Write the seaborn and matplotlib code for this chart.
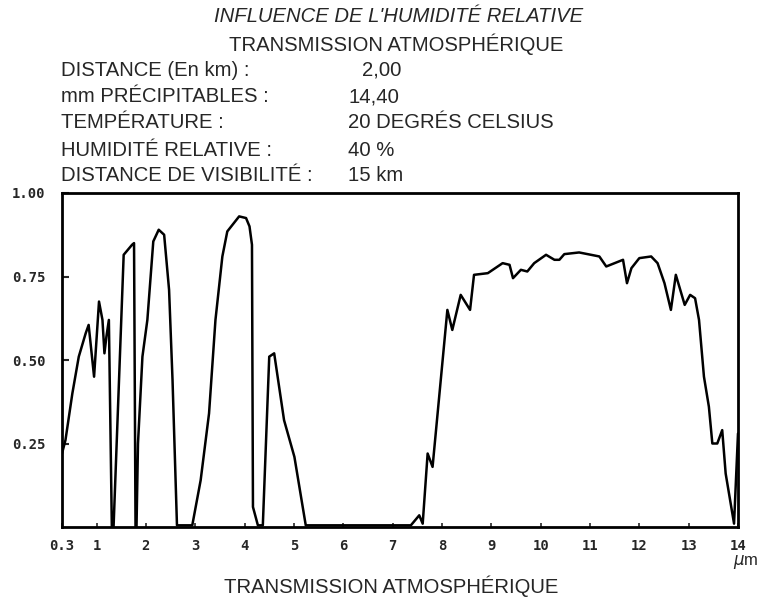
import pandas as pd
import matplotlib
matplotlib.use("Agg")
import matplotlib.pyplot as plt
import seaborn as sns

# transmission curve (wavelength in um, transmission 0..1)
wavelength = [0.30, 0.37, 0.51, 0.64, 0.78, 0.84, 0.95, 1.05, 1.12, 1.16, 1.20, 1.25,
              1.31, 1.345, 1.55, 1.72, 1.76, 1.79, 1.81, 1.84, 1.93, 2.03, 2.15, 2.26,
              2.37, 2.47, 2.54, 2.63, 2.94, 3.11, 3.28, 3.41, 3.55, 3.65, 3.89, 4.03,
              4.10, 4.15, 4.17, 4.27, 4.37, 4.50, 4.60, 4.80, 5.01, 5.24, 7.37, 7.54,
              7.61, 7.71, 7.81, 8.11, 8.21, 8.38, 8.57, 8.65, 8.93, 9.23, 9.37, 9.44,
              9.60, 9.73, 9.87, 10.11, 10.28, 10.38, 10.48, 10.78, 11.02, 11.19, 11.33,
              11.50, 11.67, 11.75, 11.84, 12.00, 12.24, 12.37, 12.51, 12.64, 12.74,
              12.92, 13.03, 13.13, 13.21, 13.31, 13.41, 13.48, 13.58, 13.68, 13.75,
              13.92, 14.00]
transmission = [0.22, 0.26, 0.40, 0.51, 0.58, 0.605, 0.45, 0.675, 0.62, 0.52, 0.57, 0.62,
                0.0, 0.0, 0.815, 0.845, 0.85, 0.0, 0.0, 0.25, 0.51, 0.62, 0.855, 0.89,
                0.875, 0.71, 0.44, 0.005, 0.005, 0.14, 0.34, 0.62, 0.81, 0.885, 0.93, 0.925,
                0.90, 0.845, 0.06, 0.005, 0.005, 0.51, 0.52, 0.32, 0.21, 0.005, 0.005, 0.035,
                0.01, 0.22, 0.18, 0.65, 0.59, 0.695, 0.65, 0.755, 0.76, 0.79, 0.785, 0.745,
                0.77, 0.765, 0.79, 0.815, 0.80, 0.80, 0.817, 0.822, 0.815, 0.81, 0.78,
                0.79, 0.80, 0.73, 0.775, 0.805, 0.81, 0.79, 0.73, 0.65, 0.755,
                0.665, 0.695, 0.685, 0.62, 0.45, 0.36, 0.25, 0.25, 0.29, 0.16,
                0.01, 0.28]

xticks = [0.3, 1, 2, 3, 4, 5, 6, 7, 8, 9, 10, 11, 12, 13, 14]
xlabels = ["0.3", "1", "2", "3", "4", "5", "6", "7", "8", "9", "10", "11", "12", "13", "14"]
yticks = [0.25, 0.50, 0.75, 1.00]
ylabels = ["0.25", "0.50", "0.75", "1.00"]

param_names = ["DISTANCE (En km) :", "mm PRÉCIPITABLES :", "TEMPÉRATURE :",
               "HUMIDITÉ RELATIVE :", "DISTANCE DE VISIBILITÉ :"]
param_values = ["2,00", "14,40", "20 DEGRÉS CELSIUS", "40 %", "15 km"]

df = pd.DataFrame({"wavelength": wavelength, "transmission": transmission})

sns.set_style("white")
sans = ["Liberation Sans", "DejaVu Sans"]
mono = ["DejaVu Sans Mono"]
fs = 14.6

fig = plt.figure(figsize=(7.63, 6.04), dpi=100)
ax = fig.add_axes([62 / 763, 1 - 527 / 604, 676 / 763, 334 / 604])

sns.lineplot(data=df, x="wavelength", y="transmission", ax=ax,
             color="black", linewidth=1.8, sort=False)

ax.set_xlim(0.3, 14)
ax.set_ylim(0, 1)
ax.set_xlabel("")
ax.set_ylabel("")
for s in ax.spines.values():
    s.set_linewidth(2)
    s.set_color("black")

ax.set_xticks(xticks)
ax.set_xticklabels(xlabels, family=mono, weight="bold", fontsize=10)
ax.set_yticks(yticks)
ax.set_yticklabels(ylabels, family=mono, weight="bold", fontsize=10)
ax.tick_params(axis="x", direction="in", length=3, width=1.2, pad=9, bottom=True)
ax.tick_params(axis="y", direction="in", length=5, width=1.5, pad=12, left=True)

# header text
fig.text(399 / 763, 1 - 16 / 604, "INFLUENCE DE L'HUMIDITÉ RELATIVE", family=sans,
         style="italic", fontsize=fs, ha="center", va="center")
fig.text(396 / 763, 1 - 44 / 604, "TRANSMISSION ATMOSPHÉRIQUE", family=sans,
         fontsize=fs, ha="center", va="center")
row_y = [70, 97, 123, 150, 176]
value_x = [362, 348, 348, 348, 348]
for name, val, y, vx in zip(param_names, param_values, row_y, value_x):
    fig.text(61 / 763, 1 - y / 604, name, family=sans, fontsize=fs, va="center")
    fig.text(vx / 763, 1 - y / 604, val, family=sans, fontsize=fs, va="center")

fig.text(733 / 763, 1 - 562 / 604, "$\\mu$m", family=sans, fontsize=12, va="center")
fig.text(391 / 763, 1 - 586 / 604, "TRANSMISSION ATMOSPHÉRIQUE", family=sans,
         fontsize=fs, ha="center", va="center")

fig.savefig("out.png", dpi=100)
